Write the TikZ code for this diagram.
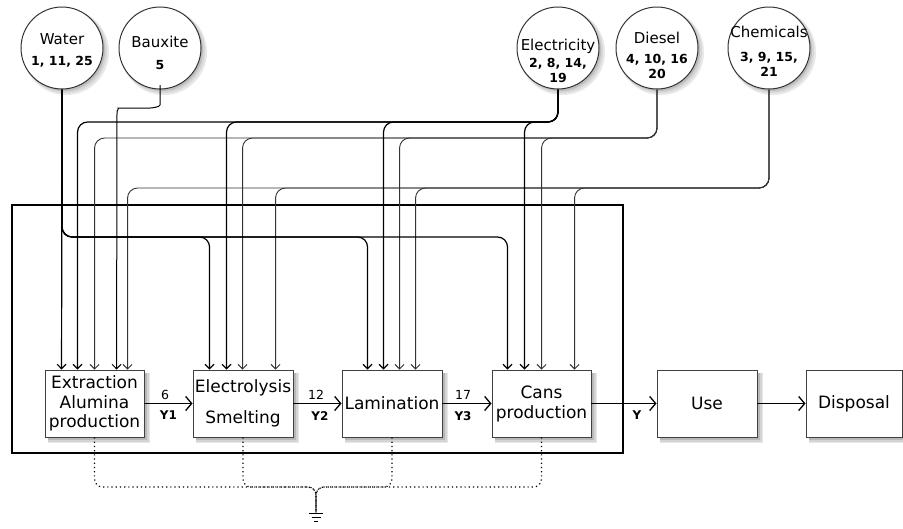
\documentclass[tikz,border=0pt]{standalone}
\usepackage{fontspec}
\setmainfont{DejaVu Sans}
\usetikzlibrary{arrows.meta,calc}
\newcommand\srcnum{\bfseries\fontsize{12.5}{15}\selectfont}
\newcommand\boxshadow[2]{%
  \fill[black!9] (#1+3,373) rectangle (#2+6,443);
  \fill[black!17] (#1+3,373) rectangle (#2+4.5,441.5);
  \fill[black!28] (#1+3,373) rectangle (#2+3,440);}
\newcommand\circshadow[1]{%
  \fill[black!9] (#1+4,52) circle[radius=43pt];
  \fill[black!16] (#1+3,51) circle[radius=42pt];
  \fill[black!26] (#1+2,50) circle[radius=41pt];}
\begin{document}
\begin{tikzpicture}[x=1pt,y=-1pt,
  src/.style={circle, draw=black!80, line width=1pt, fill=white, minimum size=82pt, inner sep=0pt},
  srctext/.style={align=center, inner sep=0pt, font=\fontsize{15}{18}\selectfont},
  proc/.style={draw=black!75, line width=0.9pt, fill=white, minimum width=99pt, minimum height=67pt, inner sep=0pt, align=center, font=\fontsize{17}{20}\selectfont},
  feed/.style={-{Straight Barb[length=4.5pt,width=9pt]}, rounded corners=10pt},
  heavy/.style={line width=1.2pt, draw=black},
  light/.style={line width=0.9pt, draw=black!80},
  flow/.style={-{Straight Barb[length=6pt,width=14pt,line width=1.3pt]}, line width=1.3pt},
  lab/.style={font=\fontsize{12.5}{15}\selectfont, inner sep=1pt},
  labb/.style={font=\bfseries\fontsize{12}{14}\selectfont, inner sep=1pt},
  gline/.style={line width=1.2pt, dash pattern=on 1.2pt off 3pt, rounded corners=8pt, draw=black},
]
\useasboundingbox (0,0) rectangle (903,528);
\fill[white] (0,0) rectangle (903,528);

% soft shadows (drawn first, under the shapes)
\circshadow{62}
\circshadow{160}
\circshadow{558}
\circshadow{657}
\circshadow{769}
\boxshadow{45}{144}
\boxshadow{193}{293}
\boxshadow{342}{442}
\boxshadow{492}{591}
\boxshadow{657}{757}
\boxshadow{806}{902}

% outer frame
\node[draw=black, line width=2.8pt, minimum width=611pt, minimum height=248pt, inner sep=0pt] (frame) at (317.5,329) {};

% source circles
\node[src] (water) at (62,48) {};
\node[src] (baux) at (160,48) {};
\node[src] (elec) at (558,48) {};
\node[src] (dies) at (657,48) {};
\node[src] (chem) at (769,48) {};

\node[srctext] (water-t) at ([yshift=-2pt]water.center) {Water\\[3pt]{\srcnum 1, 11, 25}};
\node[srctext] (baux-t) at ([yshift=-5pt]baux.center) {Bauxite\\[4pt]{\srcnum 5}};
\node[srctext] (elec-t) at ([yshift=-13pt]elec.center) {Electricity\\[-1pt]{\srcnum 2, 8, 14,}\\[-3pt]{\srcnum 19}};
\node[srctext] (dies-t) at ([yshift=-7pt]dies.center) {Diesel\\[2pt]{\srcnum 4, 10, 16}\\[-3pt]{\srcnum 20}};
\node[srctext] (chem-t) at ([yshift=-3pt]chem.center) {Chemicals\\[6pt]{\srcnum 3, 9, 15,}\\[-3pt]{\srcnum 21}};

% process boxes
\node[proc] (ext) at (94.5,403.5) {Extraction\\[-0.5pt]Alumina\\[-0.5pt]production};
\node[proc, minimum width=100pt] (elc) at (243,403.5) {Electrolysis\\[11pt]Smelting};
\node[proc, minimum width=100pt] (lam) at (392,403.5) {Lamination};
\node[proc] (cans) at (541.5,403.5) {Cans\\production};
\node[proc, minimum width=100pt] (use) at (707,403.5) {Use};
\node[proc, minimum width=96pt] (disp) at (854,403.5) {Disposal};

% bus levels
\coordinate (busE) at (0,122);
\coordinate (busD) at (0,138);
\coordinate (busC) at (0,188);
\coordinate (busW) at (0,237);

% entry points on the box tops
\coordinate (ext-w) at ([xshift=17pt]ext.north west);
\coordinate (ext-e) at ([xshift=33pt]ext.north west);
\coordinate (ext-d) at ([xshift=50pt]ext.north west);
\coordinate (ext-b) at ([xshift=72pt]ext.north west);
\coordinate (ext-c) at ([xshift=83pt]ext.north west);
\coordinate (elc-w) at ([xshift=17pt]elc.north west);
\coordinate (elc-e) at ([xshift=34pt]elc.north west);
\coordinate (elc-d) at ([xshift=50pt]elc.north west);
\coordinate (elc-c) at ([xshift=83pt]elc.north west);
\coordinate (lam-w) at ([xshift=26pt]lam.north west);
\coordinate (lam-e) at ([xshift=42pt]lam.north west);
\coordinate (lam-d) at ([xshift=58pt]lam.north west);
\coordinate (lam-c) at ([xshift=74pt]lam.north west);
\coordinate (cans-w) at ([xshift=16pt]cans.north west);
\coordinate (cans-e) at ([xshift=33pt]cans.north west);
\coordinate (cans-d) at ([xshift=50pt]cans.north west);
\coordinate (cans-c) at ([xshift=83pt]cans.north west);

% feed lines
\foreach \t in {ext-c, elc-c, lam-c, cans-c}
  \draw[feed, light] (chem.south) |- (busC -| \t) -- (\t);
\foreach \t in {ext-d, elc-d, lam-d, cans-d}
  \draw[feed, light] (dies.south) |- (busD -| \t) -- (\t);
\foreach \t in {ext-e, elc-e, lam-e, cans-e}
  \draw[feed, heavy] (elec.south) |- (busE -| \t) -- (\t);
\draw[feed, heavy] (water.south) -- (ext-w);
\foreach \t in {elc-w, lam-w, cans-w}
  \draw[feed, heavy] (water.south) |- (busW -| \t) -- (\t);
\draw[feed, line width=1pt] (baux.south) -- (160,95) .. controls (160,107) and (152,108) .. (140,108) -- (128,108) .. controls (119,108) and (117,112) .. (117,121) -- (ext-b);

% product flow
\draw[flow] (ext) -- (elc) node[lab, pos=0.43, above=2pt] (l6) {6} node[labb, pos=0.5, below=6pt] (y1) {Y1};
\draw[flow] (elc) -- (lam) node[lab, pos=0.47, above=2pt] (l12) {12} node[labb, pos=0.55, below=6pt] (y2) {Y2};
\draw[flow] (lam) -- (cans) node[lab, pos=0.42, above=2pt] (l17) {17} node[labb, pos=0.42, below=6pt] (y3) {Y3};
\draw[flow] (cans) -- (use) node[labb, pos=0.7, below=6pt] (yy) {Y};
\draw[flow] (use) -- (disp);

% waste to ground
\coordinate (gj) at (316,487);
\coordinate (gnd) at (316,513);
\foreach \s in {ext, elc, lam, cans}
  \draw[gline] (\s.south) |- (gj) -- (gnd);
\draw[line width=0.9pt] ([xshift=-7pt]gnd) -- ([xshift=7pt]gnd)
  ([xshift=-4.5pt,yshift=-4pt]gnd) -- ([xshift=4.5pt,yshift=-4pt]gnd)
  ([xshift=-2pt,yshift=-8pt]gnd) -- ([xshift=2pt,yshift=-8pt]gnd);
\end{tikzpicture}
\end{document}
